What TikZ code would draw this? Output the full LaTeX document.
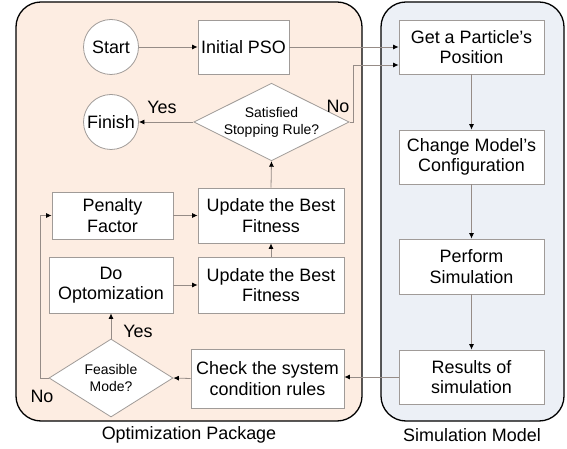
\documentclass[tikz,border=0pt]{standalone}
\usepackage{fontspec}
\setmainfont{Liberation Sans}
\usetikzlibrary{shapes.geometric,arrows.meta}
\definecolor{optfill}{RGB}{253,237,226}
\definecolor{simfill}{RGB}{236,240,246}
\definecolor{linec}{RGB}{150,140,135}
\definecolor{boxc}{RGB}{160,155,152}
\tikzset{
  panel/.style={draw=black, line width=1.3bp, rounded corners=25bp},
  box/.style={draw=boxc, fill=white, line width=0.8bp, inner sep=0pt, align=center,
    font=\fontsize{18}{20.5}\selectfont},
  term/.style={draw=boxc, fill=white, circle, line width=0.8bp, minimum size=55bp, inner sep=0pt,
    font=\fontsize{18}{20.5}\selectfont},
  decis/.style={draw=boxc, fill=white, diamond, line width=0.8bp, inner sep=0pt, align=center,
    font=\fontsize{14}{17}\selectfont},
  conn/.style={draw=linec, line width=0.8bp, -{Latex[length=5.5bp,width=5bp,color=black]}},
  lbl/.style={font=\fontsize{18}{20.5}\selectfont},
}
\begin{document}
\begin{tikzpicture}[x=1bp,y=-1bp]
\useasboundingbox (0,0) rectangle (567,449);
% panels
\draw[panel, fill=optfill] (16,2) rectangle (362,421);
\draw[panel, fill=simfill] (381,2) rectangle (564,421);
\node[lbl] (optlbl) at (189,435) {Optimization Package};
\node[lbl] (simlbl) at (472,435) {Simulation Model};
% optimization nodes
\node[term] (start) at (111,47) {Start};
\node[box, minimum width=91bp, minimum height=54bp] (init) at (243.5,47) {Initial PSO};
\node[term] (finish) at (111,122) {Finish};
\node[decis, minimum width=139bp, minimum height=69bp, aspect=2] (stop) at (271.5,122) {Satisfied\\Stopping Rule?};
\node[box, minimum width=121bp, minimum height=47bp] (pen) at (112.5,215.5) {Penalty\\Factor};
\node[box, minimum width=146bp, minimum height=55bp] (upd1) at (271,215.5) {Update the Best\\Fitness};
\node[box, minimum width=124bp, minimum height=56bp] (doopt) at (111,285) {Do\\Optomization};
\node[box, minimum width=146bp, minimum height=56bp] (upd2) at (271,285) {Update the Best\\Fitness};
\node[decis, minimum width=124bp, minimum height=78bp, aspect=1.6] (feas) at (111,378) {Feasible\\Mode?};
\node[box, minimum width=153bp, minimum height=59bp] (check) at (267.5,378.5) {Check the system\\condition rules};
% simulation nodes
\node[box, minimum width=145bp, minimum height=54bp] (getp) at (471.5,47) {Get a Particle's\\Position};
\node[box, minimum width=145bp, minimum height=54bp] (chg) at (471.5,157) {Change Model's\\Configuration};
\node[box, minimum width=145bp, minimum height=55bp] (perf) at (471.5,266.5) {Perform\\Simulation};
\node[box, minimum width=145bp, minimum height=54bp] (res) at (471.5,377) {Results of\\simulation};
% connectors
\draw[conn] (start) -- (init);
\draw[conn] (init.east) -- (init.east -| getp.west);
\coordinate (nocorner) at (353,122);
\coordinate (notop) at (353,65);
\draw[conn] (stop.east) -- (nocorner) -- (notop) -- (notop -| getp.west);
\draw[conn] (stop.west) -- (finish.east);
\draw[conn] (upd1.north) -- (stop.south);
\draw[conn] (pen.east) -- (pen.east -| upd1.west);
\draw[conn] (doopt.east) -- (doopt.east -| upd2.west);
\draw[conn] (upd2.north) -- (upd1.south);
\draw[conn] (feas.north) -- (doopt.south);
\coordinate (nol) at (40,378);
\coordinate (nou) at (40,215.5);
\draw[conn] (feas.west) -- (nol) -- (nou) -- (pen.west);
\draw[conn] (check.west) -- (feas.east);
\draw[conn] (res.west) -- (res.west -| check.east);
\draw[conn] (getp) -- (chg);
\draw[conn] (chg) -- (perf);
\draw[conn] (perf) -- (res);
% labels
\node[lbl] (yes1) at (162,107) {Yes};
\node[lbl] (no1) at (338,106) {No};
\node[lbl] (yes2) at (138,331) {Yes};
\node[lbl] (no2) at (42,396) {No};
\end{tikzpicture}
\end{document}
